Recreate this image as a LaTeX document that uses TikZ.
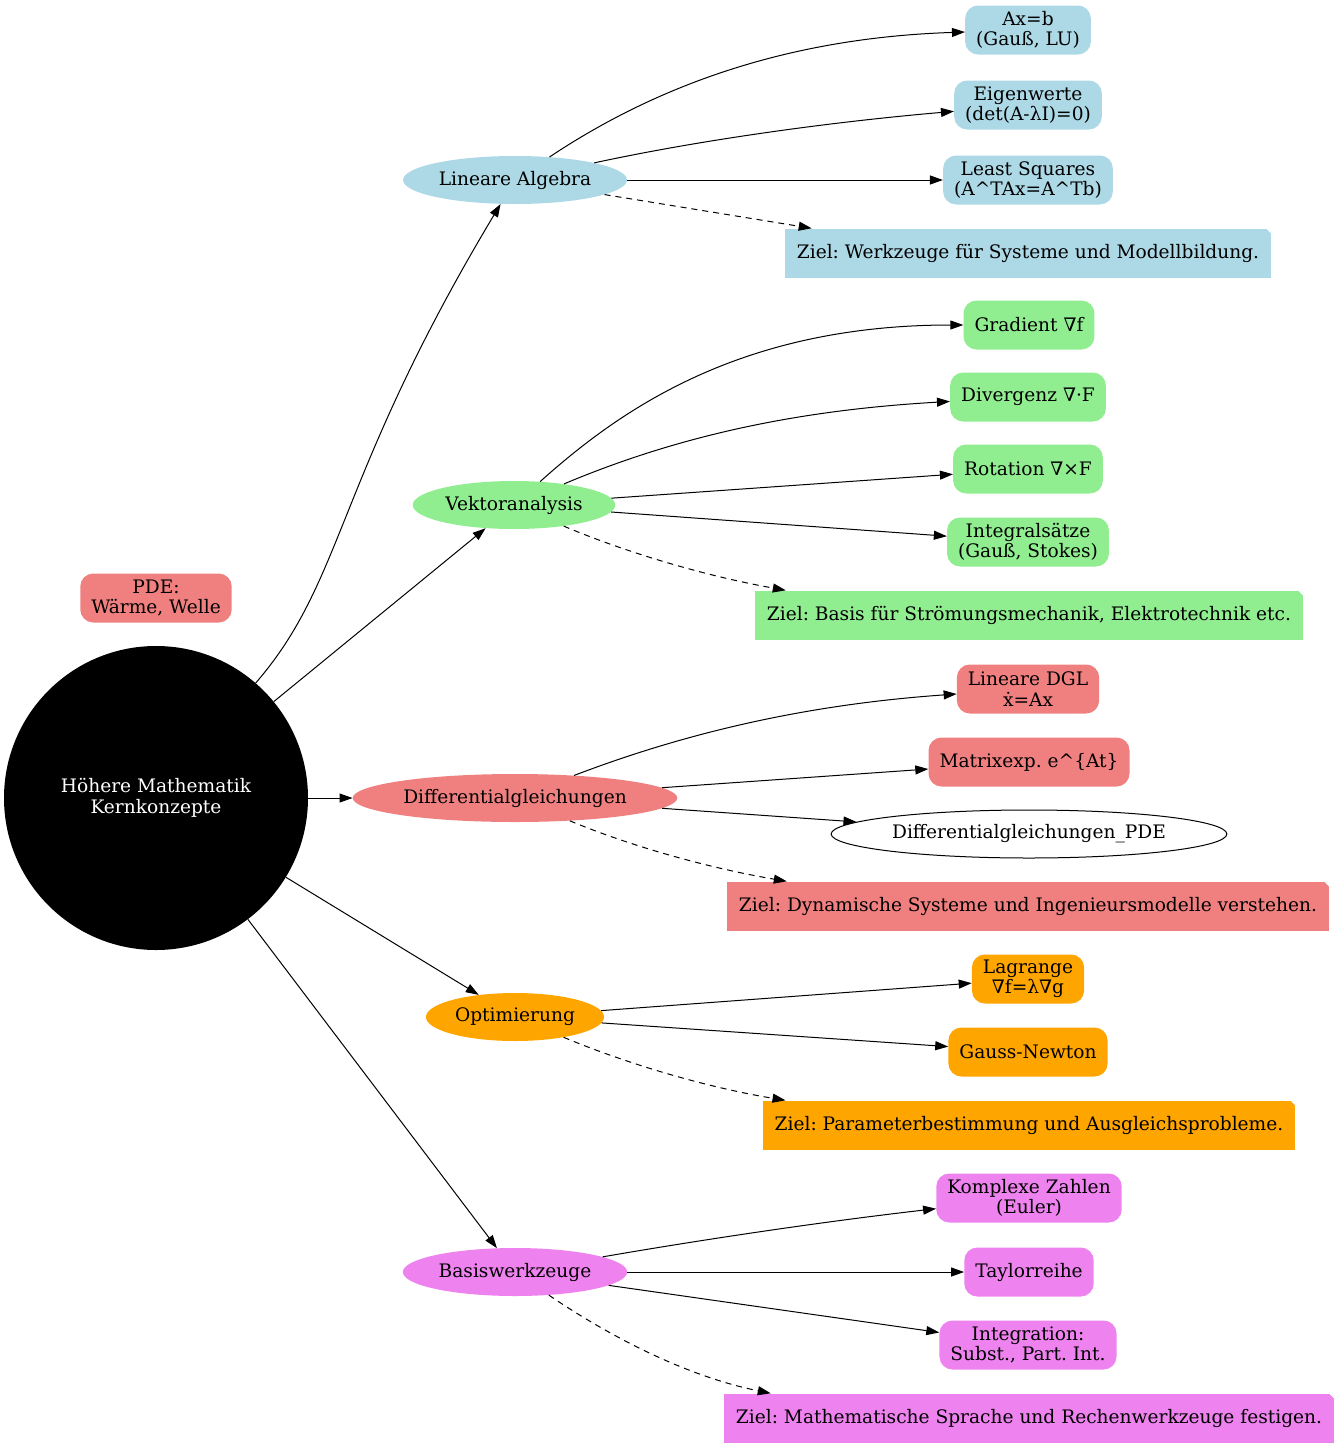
\documentclass[tikz,border=0pt]{standalone}
\usepackage{fontspec}
\setmainfont{DejaVu Serif}
\usepackage{tikz}
\usetikzlibrary{arrows.meta}
\usetikzlibrary{shapes}
\usetikzlibrary{calc}
\definecolor{lightblue}{HTML}{ADD8E6}
\definecolor{lightgreen}{HTML}{90EE90}
\definecolor{lightcoral}{HTML}{F08080}
\definecolor{orange}{HTML}{FFA500}
\definecolor{violet}{HTML}{EE82EE}
\frenchspacing
\tikzset{
  mm_node/.style = {align=center, inner ysep=2pt, text centered},
  mm_root/.style = {mm_node, circle, fill=black, text=white,
    minimum size=304pt},% Wurzel
  mm_topic/.style = {mm_node, ellipse, minimum height=48pt,
    inner xsep=3pt},% Themen
  mm_leaf/.style = {mm_node, rectangle, rounded corners=13pt,
    minimum height=49pt, inner xsep=11pt},% Begriffe
  mm_goal/.style = {mm_node, rectangle, minimum height=49pt,
    inner xsep=12pt, path picture={
      \fill[white] ([xshift=-5pt]path picture bounding box.north east)
        -- (path picture bounding box.north east)
        -- ([yshift=-5pt]path picture bounding box.north east) -- cycle;}},% Ziel
  mm_edge/.style = {->, line width=1pt},
  mm_dash/.style = {mm_edge, dash pattern=on 6pt off 5pt}
}

\begin{document}
\begin{tikzpicture}[x=1pt,y=-1pt,>={Triangle[length=13pt,width=9pt]},
  font=\fontsize{18.6}{20.5}\selectfont]
\useasboundingbox (0,0) rectangle (1340,1448);

\node [mm_root] (root) at (156,798) {Höhere Mathematik\\Kernkonzepte};
\node [mm_leaf, fill=lightcoral] (pde) at (156,598) {PDE:\\Wärme, Welle};

% Themen
\node [mm_topic, fill=lightblue] (la) at (515,180) {Lineare Algebra};
\node [mm_topic, fill=lightgreen] (va) at (514,505) {Vektoranalysis};
\node [mm_topic, fill=lightcoral] (dgl) at (515,798) {Differentialgleichungen};
\node [mm_topic, fill=orange] (opt) at (515,1017) {Optimierung};
\node [mm_topic, fill=violet] (bas) at (515,1272) {Basiswerkzeuge};

% Lineare Algebra
\node [mm_leaf, fill=lightblue] (axb) at (1028,30) {Ax=b\\(Gauß, LU)};
\node [mm_leaf, fill=lightblue] (eig) at (1028,105) {Eigenwerte\\(det(A-λI)=0)};
\node [mm_leaf, fill=lightblue] (lsq) at (1028,180) {Least Squares\\(A\textasciicircum TAx=A\textasciicircum Tb)};
\node [mm_goal, fill=lightblue] (ziel_la) at (1028,253) {Ziel: Werkzeuge für Systeme und Modellbildung.};

% Vektoranalysis
\node [mm_leaf, fill=lightgreen] (grad) at (1029,325) {Gradient ∇f};
\node [mm_leaf, fill=lightgreen] (div) at (1028,397) {Divergenz ∇·F};
\node [mm_leaf, fill=lightgreen] (rot) at (1028,469) {Rotation ∇×F};
\node [mm_leaf, fill=lightgreen] (isatz) at (1028,542) {Integralsätze\\(Gauß, Stokes)};
\node [mm_goal, fill=lightgreen] (ziel_va) at (1029,615) {Ziel: Basis für Strömungsmechanik, Elektrotechnik etc.};

% Differentialgleichungen
\node [mm_leaf, fill=lightcoral] (ldgl) at (1028,689) {Lineare DGL\\ẋ=Ax};
\node [mm_leaf, fill=lightcoral] (mexp) at (1029,762) {Matrixexp. e\textasciicircum\{At\}};
\node [mm_topic, draw=black, line width=1pt] (dglpde) at (1029,834) {Differentialgleichungen\_PDE};
\node [mm_goal, fill=lightcoral] (ziel_dgl) at (1028,906) {Ziel: Dynamische Systeme und Ingenieursmodelle verstehen.};

% Optimierung
\node [mm_leaf, fill=orange] (lag) at (1028,979) {Lagrange\\∇f=λ∇g};
\node [mm_leaf, fill=orange] (gn) at (1028,1052) {Gauss-Newton};
\node [mm_goal, fill=orange] (ziel_opt) at (1029,1125) {Ziel: Parameterbestimmung und Ausgleichsprobleme.};

% Basiswerkzeuge
\node [mm_leaf, fill=violet] (kz) at (1029,1198) {Komplexe Zahlen\\(Euler)};
\node [mm_leaf, fill=violet] (tay) at (1029,1272) {Taylorreihe};
\node [mm_leaf, fill=violet] (int) at (1028,1345) {Integration:\\Subst., Part. Int.};
\node [mm_goal, fill=violet] (ziel_bas) at (1029,1418) {Ziel: Mathematische Sprache und Rechenwerkzeuge festigen.};

% Kanten
\draw [mm_edge] (root) .. controls (345,580) and (335,480) .. (la);
\draw [mm_edge] (root) -- (va);
\draw [mm_edge] (root) -- (dgl);
\draw [mm_edge] (root) -- (opt);
\draw [mm_edge] (root) -- (bas);

\draw [mm_edge] (la) .. controls (650,90) and (780,38) .. (axb);
\draw [mm_edge] (la) .. controls (700,140) and (830,122) .. (eig);
\draw [mm_edge] (la) -- (lsq);
\draw [mm_dash] (la) -- ($(ziel_la.north west)+(27,0)$);

\draw [mm_edge] (va) .. controls (620,410) and (740,325) .. (grad);
\draw [mm_edge] (va) .. controls (680,435) and (800,410) .. (div);
\draw [mm_edge] (va) -- (rot);
\draw [mm_edge] (va) -- (isatz);
\draw [mm_dash] (va) .. controls (620,550) and (700,575) .. ($(ziel_va.north west)+(31,0)$);

\draw [mm_edge] (dgl) .. controls (680,735) and (800,705) .. (ldgl);
\draw [mm_edge] (dgl) -- (mexp);
\draw [mm_edge] (dgl) -- (dglpde);
\draw [mm_dash] (dgl) .. controls (640,850) and (720,870) .. ($(ziel_dgl.north west)+(60,0)$);

\draw [mm_edge] (opt) -- (lag);
\draw [mm_edge] (opt) -- (gn);
\draw [mm_dash] (opt) .. controls (630,1065) and (710,1088) .. ($(ziel_opt.north west)+(23,0)$);

\draw [mm_edge] (bas) .. controls (700,1240) and (820,1222) .. (kz);
\draw [mm_edge] (bas) -- (tay);
\draw [mm_edge] (bas) -- (int);
\draw [mm_dash] (bas) .. controls (600,1330) and (680,1375) .. ($(ziel_bas.north west)+(47,0)$);
\end{tikzpicture}
\end{document}
